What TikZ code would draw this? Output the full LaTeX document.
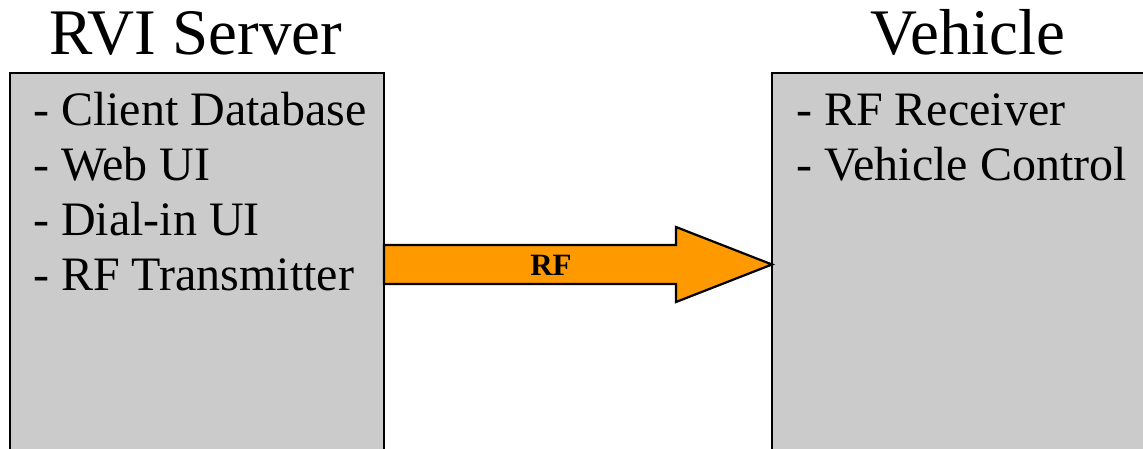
\documentclass[tikz,border=0pt]{standalone}
\usepackage{fontspec}
\setmainfont{Liberation Serif}
\usetikzlibrary{calc}

\definecolor{boxgray}{HTML}{CBCBCB}
\definecolor{rforange}{HTML}{FF9900}

\tikzset{
  panel/.style={draw=black, line width=2.6pt, fill=boxgray, anchor=north west,
                inner sep=0pt, outer sep=0pt},
  heading/.style={anchor=base, inner sep=0pt, font=\fontsize{65}{72}\selectfont},
  item/.style={anchor=base west, inner sep=0pt, font=\fontsize{48}{56}\selectfont},
  rfarrow/.style={draw=black, line width=2.2pt, fill=rforange, line join=miter},
  rflabel/.style={inner sep=0pt, font=\bfseries\fontsize{31}{34}\selectfont}
}

\begin{document}
\begin{tikzpicture}[x=1pt, y=-1pt]
  \useasboundingbox (0,0) rectangle (1143,449);
  \clip (0,0) rectangle (1143,449);

  % the two panels run past the lower (and right) edge
  \node[panel, minimum width=374pt, minimum height=420pt] (srv) at (10,73) {};
  \node[panel, minimum width=420pt, minimum height=420pt] (veh) at (772,73) {};

  % headings
  \node[heading] (srvtitle) at (196,55) {RVI Server};
  \node[heading] (vehtitle) at (968,55) {Vehicle};

  % server contents
  \node[item] (s1) at (33,126)   {- Client Database};
  \node[item] (s2) at (33,181)   {- Web UI};
  \node[item] (s3) at (33,235.5) {- Dial-in UI};
  \node[item] (s4) at (33,290)   {- RF Transmitter};

  % vehicle contents
  \node[item] (v1) at (796,126) {- RF Receiver};
  \node[item] (v2) at (796,181) {- Vehicle Control};

  % block arrow from server to vehicle
  \coordinate (tail) at (srv.east |- 0,264.5);
  \coordinate (tip) at (veh.west |- tail);
  \draw[rfarrow]
    ($(tail)+(0,-19.5)$) -- ($(tip)+(-96,-19.5)$) -- ($(tip)+(-96,-37.5)$)
    -- (tip)
    -- ($(tip)+(-96,37.5)$) -- ($(tip)+(-96,19.5)$) -- ($(tail)+(0,19.5)$) -- cycle;
  \node[rflabel] (rf) at ($(tail)+(167,1)$) {RF};
\end{tikzpicture}
\end{document}
